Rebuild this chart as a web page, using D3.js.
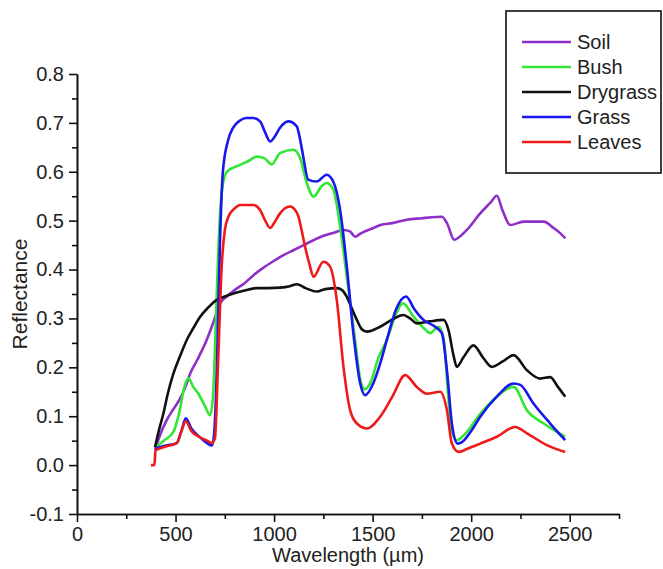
<!DOCTYPE html>
<html>
	<head>
		<title>Reflectance spectra</title>
		<style>
			body,
			html {
				margin: 0;
				padding: 0;
				background: #fff;
			}
			#svg text {
				font-family: 'Liberation Sans', Arial, sans-serif;
				fill: #222;
			}
		</style>
	</head>
	<body>
		<svg id="svg" width="663" height="569"></svg>

		<script src="https://d3js.org/d3.v7.min.js"></script>
		<script>
			// values: [wavelength, reflectance]
			const soil = [
				[396, 0.03], [420, 0.06], [455, 0.092], [490, 0.115], [523, 0.136], [550, 0.16],
				[574, 0.187], [610, 0.215], [658, 0.256], [690, 0.29], [726, 0.331], [760, 0.345],
				[800, 0.358], [850, 0.372], [900, 0.39], [950, 0.405], [1000, 0.418], [1050, 0.43],
				[1100, 0.44], [1150, 0.45], [1200, 0.46], [1250, 0.469], [1300, 0.475], [1352, 0.481],
				[1385, 0.478], [1411, 0.467], [1440, 0.474], [1504, 0.485], [1540, 0.491], [1600, 0.495],
				[1673, 0.502], [1750, 0.505], [1800, 0.507], [1851, 0.508], [1877, 0.495], [1914, 0.461],
				[1950, 0.47], [1978, 0.481], [2046, 0.515], [2100, 0.538], [2130, 0.551], [2160, 0.52],
				[2198, 0.491], [2266, 0.498], [2368, 0.498], [2418, 0.485], [2450, 0.475], [2477, 0.464]
			];
			const bush = [
				[396, 0.035], [440, 0.05], [489, 0.068], [520, 0.11], [545, 0.16], [565, 0.178],
				[590, 0.16], [616, 0.146], [650, 0.12], [675, 0.102], [690, 0.14], [705, 0.3],
				[718, 0.45], [735, 0.56], [760, 0.6], [827, 0.614], [870, 0.622], [912, 0.631],
				[950, 0.628], [988, 0.615], [1030, 0.638], [1098, 0.645], [1132, 0.628], [1166, 0.577],
				[1200, 0.549], [1240, 0.57], [1267, 0.577], [1301, 0.563], [1335, 0.488], [1369, 0.385],
				[1411, 0.256], [1440, 0.17], [1460, 0.155], [1487, 0.167], [1530, 0.22], [1572, 0.256],
				[1620, 0.31], [1653, 0.331], [1707, 0.304], [1760, 0.28], [1792, 0.27], [1834, 0.283],
				[1860, 0.26], [1880, 0.16], [1902, 0.07], [1927, 0.051], [1960, 0.06], [2046, 0.105],
				[2130, 0.14], [2215, 0.16], [2283, 0.112], [2368, 0.085], [2477, 0.058]
			];
			const drygrass = [
				[396, 0.037], [415, 0.07], [438, 0.105], [460, 0.145], [489, 0.187], [520, 0.22],
				[557, 0.256], [590, 0.28], [624, 0.303], [665, 0.322], [709, 0.338], [750, 0.345],
				[794, 0.351], [850, 0.357], [912, 0.362], [970, 0.362], [1030, 0.363], [1080, 0.366],
				[1115, 0.37], [1160, 0.362], [1217, 0.355], [1260, 0.36], [1318, 0.362], [1345, 0.358],
				[1369, 0.344], [1395, 0.32], [1420, 0.297], [1445, 0.278], [1471, 0.273], [1538, 0.283],
				[1600, 0.298], [1656, 0.307], [1690, 0.3], [1724, 0.29], [1790, 0.294], [1860, 0.297],
				[1885, 0.276], [1910, 0.225], [1927, 0.201], [1960, 0.22], [2012, 0.245], [2060, 0.22],
				[2105, 0.201], [2160, 0.212], [2215, 0.225], [2283, 0.194], [2350, 0.177], [2401, 0.18],
				[2440, 0.16], [2477, 0.14]
			];
			const grass = [
				[396, 0.034], [450, 0.04], [506, 0.045], [530, 0.07], [552, 0.096], [580, 0.075],
				[624, 0.057], [660, 0.045], [684, 0.04], [695, 0.06], [710, 0.2], [725, 0.45],
				[740, 0.6], [767, 0.665], [792, 0.69], [827, 0.705], [860, 0.71], [894, 0.71],
				[929, 0.703], [955, 0.68], [980, 0.662], [1000, 0.67], [1030, 0.69], [1072, 0.703],
				[1115, 0.693], [1135, 0.66], [1148, 0.631], [1173, 0.584], [1216, 0.58], [1267, 0.594],
				[1300, 0.58], [1335, 0.522], [1369, 0.406], [1402, 0.27], [1437, 0.167], [1462, 0.143],
				[1503, 0.167], [1540, 0.21], [1572, 0.256], [1620, 0.32], [1670, 0.345], [1710, 0.32],
				[1758, 0.297], [1817, 0.283], [1851, 0.27], [1877, 0.194], [1902, 0.085], [1931, 0.044],
				[1953, 0.047], [2000, 0.07], [2046, 0.099], [2130, 0.14], [2215, 0.167], [2249, 0.164],
				[2316, 0.126], [2401, 0.085], [2477, 0.051]
			];
			const leaves = [
				[375, 0.0], [393, 0.0], [398, 0.03], [450, 0.038], [506, 0.045], [530, 0.07],
				[552, 0.09], [580, 0.07], [624, 0.057], [660, 0.05], [684, 0.045], [700, 0.055],
				[715, 0.2], [734, 0.406], [750, 0.48], [768, 0.508], [800, 0.525], [827, 0.532],
				[860, 0.532], [895, 0.532], [929, 0.522], [955, 0.5], [980, 0.485], [1000, 0.495],
				[1030, 0.515], [1081, 0.529], [1110, 0.52], [1124, 0.508], [1140, 0.48], [1157, 0.447],
				[1180, 0.41], [1200, 0.385], [1250, 0.416], [1284, 0.406], [1318, 0.338], [1352, 0.201],
				[1386, 0.112], [1420, 0.085], [1471, 0.075], [1538, 0.099], [1600, 0.14], [1665, 0.184],
				[1724, 0.16], [1775, 0.146], [1843, 0.15], [1877, 0.112], [1902, 0.044], [1936, 0.027],
				[1990, 0.035], [2046, 0.044], [2130, 0.058], [2223, 0.078], [2283, 0.065], [2384, 0.041],
				[2477, 0.027]
			];

			const names = ['Soil', 'Bush', 'Drygrass', 'Grass', 'Leaves'];
			const colors = ['#8e2fc8', '#33e633', '#111111', '#1717ee', '#ee1a1a'];
			const series = [soil, bush, drygrass, grass, leaves];

			const xTicks = [0, 500, 1000, 1500, 2000, 2500];
			const xMinor = [250, 750, 1250, 1750, 2250, 2750];
			const yTicks = [-0.1, 0.0, 0.1, 0.2, 0.3, 0.4, 0.5, 0.6, 0.7, 0.8];
			const yMinor = [-0.05, 0.05, 0.15, 0.25, 0.35, 0.45, 0.55, 0.65, 0.75];

			const svg = d3.select('#svg');

			const xscale = d3.scaleLinear().domain([0, 2750]).range([77, 619]);
			const yscale = d3.scaleLinear().domain([-0.1, 0.8]).range([514, 74]);

			// lines
			const linegen = d3
				.line()
				.x((d) => xscale(d[0]))
				.y((d) => yscale(d[1]))
				.curve(d3.curveMonotoneX);

			svg
				.append('g')
				.selectAll('path')
				.data(series)
				.enter()
				.append('path')
				.attr('d', (d) => linegen(d))
				.attr('fill', 'none')
				.attr('stroke', (d, i) => colors[i])
				.attr('stroke-width', 2.6)
				.attr('stroke-linejoin', 'round');

			// axes
			const fmtY = (d) => d3.format('.1f')(d).replace('−', '-');
			const bottomAxis = d3.axisBottom(xscale).tickValues(xTicks).tickSizeInner(8).tickSizeOuter(0).tickPadding(5).tickFormat(d3.format('d'));
			const bottomMinor = d3.axisBottom(xscale).tickValues(xMinor).tickSizeInner(5).tickSizeOuter(0).tickFormat('');
			const leftAxis = d3.axisLeft(yscale).tickValues(yTicks).tickSizeInner(8).tickSizeOuter(0).tickPadding(5).tickFormat(fmtY);
			const leftMinor = d3.axisLeft(yscale).tickValues(yMinor).tickSizeInner(5).tickSizeOuter(0).tickFormat('');

			const gx = svg.append('g').attr('transform', 'translate(0, 514)');
			gx.call(bottomAxis);
			gx.append('g').call(bottomMinor);
			const gy = svg.append('g').attr('transform', 'translate(77, 0)');
			gy.call(leftAxis);
			gy.append('g').call(leftMinor);

			svg.selectAll('.domain, .tick line').attr('stroke', '#111').attr('stroke-width', 1.6);
			svg.selectAll('.tick text').style('font-size', '20px');

			// axis titles
			svg
				.append('text')
				.attr('x', 348)
				.attr('y', 562)
				.attr('text-anchor', 'middle')
				.style('font-size', '20px')
				.text('Wavelength (µm)');
			svg
				.append('text')
				.attr('transform', 'translate(27, 294) rotate(-90)')
				.attr('text-anchor', 'middle')
				.style('font-size', '21px')
				.text('Reflectance');

			// legend
			const legend = svg.append('g');
			legend
				.append('rect')
				.attr('x', 506)
				.attr('y', 11)
				.attr('width', 155)
				.attr('height', 162)
				.attr('fill', '#fff')
				.attr('stroke', '#111')
				.attr('stroke-width', 1.6);
			const rows = legend
				.selectAll('.row')
				.data(names)
				.enter()
				.append('g')
				.attr('transform', (d, i) => `translate(0, ${42 + i * 25})`);
			rows
				.append('line')
				.attr('x1', 522)
				.attr('x2', 571)
				.attr('stroke', (d, i) => colors[i])
				.attr('stroke-width', 2.6);
			rows
				.append('text')
				.attr('x', 577)
				.attr('dy', '0.36em')
				.style('font-size', '20px')
				.text((d) => d);
		</script>
	</body>
</html>
